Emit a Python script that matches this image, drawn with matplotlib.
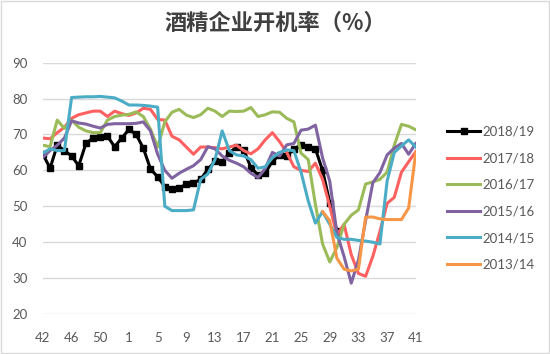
import numpy as np
import matplotlib
matplotlib.use("Agg")
import matplotlib.pyplot as plt

plt.rcParams['font.family'] = ['Lato', 'Noto Sans CJK SC', 'DejaVu Sans']

nan = np.nan

# week numbers on the category axis (42..53, then 1..41)
weeks = list(range(42, 54)) + list(range(1, 42))

s2018 = [64.5, 60.6, 67, 65.5, 64, 61.3, 67.5, 69, 69.4, 69.5,
         66.6, 69, 71.4, 70, 66.2, 60.4, 58.2, 55.5, 54.8, 55,
         56.2, 56.5, 57.5, 60.3, 62.5, 62.4, 64.8, 66.6, 65.8, 60.8,
         58.7, 59.3, 62.5, 64.3, 64, 66, 67, 66.6, 66, 60,
         51, 43] + [nan] * 11
s2017 = [69, 68.8, 70.5, 72, 74.5, 75.5, 76, 76.5, 76.5, 75,
         76.5, 75.8, 75.3, 76, 77.3, 77, 74.2, 74, 69.5, 68.5,
         66.5, 64.5, 66.5, 66.5, 66.3, 66, 66.5, 67, 65.5, 64.6,
         66, 68.5, 70.5, 68, 65, 61, 60, 59.7, 62, 57.5,
         50, 42, 45, 36.5, 31.3, 30.5, 36, 43, 50.8, 52.5,
         59.5, 62.4, 65.2]
s2016 = [67, 66.6, 74, 71.7, 74, 72, 71, 70.5, 70.5, 74,
         75, 75.4, 75.6, 76.3, 75, 71.5, 66.5, 73.5, 76.2, 77,
         75.4, 74.7, 75.5, 77.3, 76.5, 75, 76.5, 76.4, 76.5, 77.5,
         75, 75.5, 76.3, 76.2, 74.5, 73.5, 64.8, 63, 50.5, 39.5,
         34.5, 38.5, 45, 47.5, 49, 56.2, 56.8, 57.5, 59.5, 67,
         72.8, 72.3, 71.3]
s2015 = [63.6, 65.5, 67, 69, 73.8, 73.2, 72.9, 72.3, 71.8, 72.8,
         73, 73, 73, 73.1, 73.5, 71, 64.5, 60, 57.8, 59.2,
         60.3, 61.3, 63, 66.6, 66, 64, 62.8, 62, 61, 59.2,
         58, 60.5, 65, 64, 67.1, 67.5, 71.2, 71.5, 72.6, 63.5,
         57, 42.5, 36, 28.6, 35, 46, 56.5, 59.4, 64.3, 66.2,
         67.5, 64.5, 67.5]
s2014 = [64.8, 66, 65.5, 65.5, 80.3, 80.4, 80.5, 80.5, 80.6, 80.4,
         80.2, 79.3, 78.2, 78.2, 78.1, 77.9, 77.6, 50, 48.8, 48.8,
         48.8, 49, 57.5, 59, 63, 71, 65.5, 64.3, 64, 63,
         60.6, 61, 63.5, 65, 65.7, 65.5, 59.5, 51.5, 45.3, 48.5,
         45, 41.3, 40.8, 40.8, 40.5, 40.3, 40, 39.5, 57, 65,
         66.8, 68.5, 66.5]
s2013 = [nan] * 39 + [48.5, 46, 35.5, 32.5, 32, 32.5, 47, 47, 46.5, 46.3,
                      46.3, 46.3, 49.5, 65]

labels = ['2018/19', '2017/18', '2016/17', '2015/16', '2014/15', '2013/14']
series = [s2018, s2017, s2016, s2015, s2014, s2013]
colors = ['#000000', '#FF6060', '#9BBB59', '#8064A2', '#4BACC6', '#F79646']

fig = plt.figure(figsize=(5.5, 3.54), dpi=100)
ax = fig.add_axes([0.078, 0.113, 0.678, 0.71])

x = np.arange(len(weeks))
for i, (s, lab, c) in enumerate(zip(series, labels, colors)):
    if i == 0:
        ax.plot(x, s, color=c, lw=2.2, marker='s', ms=5, label=lab, zorder=3)
    else:
        ax.plot(x, s, color=c, lw=2.2, label=lab, zorder=3 + i)

ax.set_xlim(0, len(weeks) - 1)
ax.set_ylim(20, 90)
ax.set_yticks(range(20, 91, 10))
ax.set_xticks(x[::4])
ax.set_xticklabels([str(w) for w in weeks[::4]])
ax.grid(axis='y', color='#d9d9d9', lw=1)
ax.set_axisbelow(True)
for sp in ax.spines.values():
    sp.set_visible(False)
ax.tick_params(axis='both', length=0, labelsize=9.5, labelcolor='#595959')
ax.tick_params(axis='y', pad=11)
ax.tick_params(axis='x', pad=13)

fig.text(0.5, 0.935, '酒精企业开机率（%）', ha='center', va='center',
         fontsize=16, fontweight='bold', color='#404040',
         family=['Noto Sans CJK SC', 'DejaVu Sans'])

fig.legend(loc='center left', bbox_to_anchor=(0.813, 0.44), frameon=False,
           fontsize=9.5, labelcolor='#595959', handlelength=2.5,
           handletextpad=0.2, labelspacing=1.1, borderpad=0, borderaxespad=0,
           numpoints=1)

fig.patches.append(plt.Rectangle((0.001, 0.002), 0.997, 0.995, transform=fig.transFigure,
                                 fill=False, edgecolor='#d9d9d9', lw=1))

fig.savefig('out.png', dpi=100)
